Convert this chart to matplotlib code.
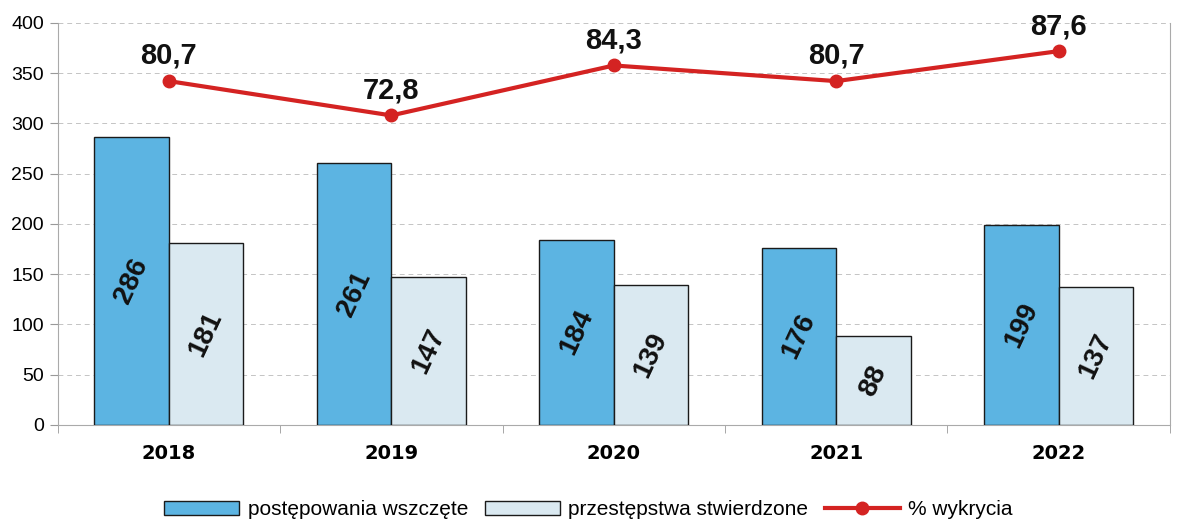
import matplotlib
matplotlib.use('Agg')
import matplotlib.pyplot as plt
import numpy as np

plt.rcParams['font.family'] = ['Liberation Sans', 'DejaVu Sans']

years = ['2018', '2019', '2020', '2021', '2022']
wszczete = [286, 261, 184, 176, 199]
stwierdzone = [181, 147, 139, 88, 137]
wykrycie = [80.7, 72.8, 84.3, 80.7, 87.6]
wykrycie_labels = ['80,7', '72,8', '84,3', '80,7', '87,6']

fig = plt.figure(figsize=(11.77, 5.2), dpi=100)
ax = fig.add_axes([0.049, 0.183, 0.945, 0.773])

x = np.arange(len(years))
w = 0.335
b1 = ax.bar(x - w / 2, wszczete, w, color='#5cb4e2', edgecolor='#1a1a1a', linewidth=1.0,
            label='postępowania wszczęte', zorder=3)
b2 = ax.bar(x + w / 2, stwierdzone, w, color='#dae9f1', edgecolor='#1a1a1a', linewidth=1.0,
            label='przestępstwa stwierdzone', zorder=3)

# wartosci wewnatrz slupkow, obrocone
for rects, vals in ((b1, wszczete), (b2, stwierdzone)):
    for r, v in zip(rects, vals):
        ax.text(r.get_x() + r.get_width() / 2, v / 2, str(v), rotation=65,
                ha='center', va='center', fontsize=20, fontweight='bold',
                color='#111111', zorder=5, rotation_mode='anchor')

ax.set_xlim(-0.5, len(years) - 0.5)
ax.set_ylim(0, 400)
ax.set_yticks(range(0, 401, 50))
ax.set_xticks(x)
ax.set_xticklabels(years, fontsize=14, fontweight='bold', family='DejaVu Sans')
ax.set_xticks(np.arange(-0.5, len(years)), minor=True)
ax.tick_params(axis='x', which='major', length=0, pad=14)
ax.tick_params(axis='x', which='minor', length=6, color='#999999')
ax.tick_params(axis='y', labelsize=14, length=6, color='#999999', pad=4)
ax.yaxis.grid(True, linestyle=(0, (5, 4)), color='#c4c4c4', linewidth=0.7, zorder=0)
ax.spines['top'].set_visible(False)
for s in ['left', 'right', 'bottom']:
    ax.spines[s].set_color('#aaaaaa')
    ax.spines[s].set_linewidth(0.8)

# % wykrycia na osi pomocniczej (ukrytej)
ax2 = ax.twinx()
ax2.set_ylim(1.6, 94.1)
ln, = ax2.plot(x, wykrycie, color='#d42322', linewidth=3, marker='o', markersize=9,
               label='% wykrycia', zorder=6)
for xi, v, lab in zip(x, wykrycie, wykrycie_labels):
    ax2.annotate(lab, (xi, v), xytext=(0, 8), textcoords='offset points',
                 ha='center', va='bottom', fontsize=21, fontweight='bold', color='#111111')
ax2.set_yticks([])
for s in ax2.spines.values():
    s.set_visible(False)

fig.legend(handles=[b1, b2, ln], loc='lower center', bbox_to_anchor=(0.5, -0.035),
           ncol=3, frameon=False, fontsize=15, handlelength=3.6, handleheight=0.7,
           columnspacing=0.8, handletextpad=0.4)

fig.savefig('out.png', dpi=100)
